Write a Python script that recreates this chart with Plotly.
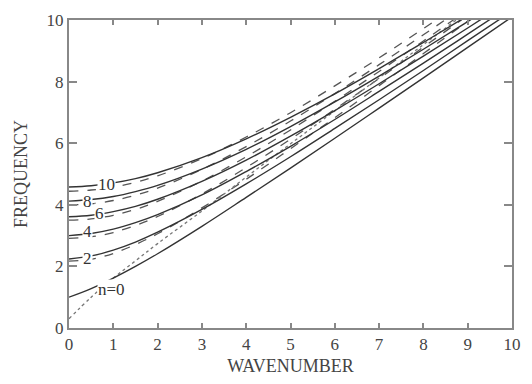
import plotly.graph_objects as go

# wavenumber samples
k = [0, 0.5, 1, 1.5, 2, 3, 4, 5, 6, 7, 8, 9, 10]

# solid curves (frequency), modes n = 0,2,4,6,8,10
solid_n0 = [1.00, 1.28, 1.62, 2.00, 2.41, 3.30, 4.24, 5.19, 6.16, 7.14, 8.12, 9.11, 10.10]
solid_n2 = [2.24, 2.34, 2.53, 2.79, 3.11, 3.85, 4.68, 5.56, 6.48, 7.41, 8.36, 9.33, 10.29]
solid_n4 = [3.00, 3.07, 3.21, 3.42, 3.68, 4.32, 5.08, 5.90, 6.77, 7.68, 8.60, 9.54, 10.49]
solid_n6 = [3.61, 3.66, 3.78, 3.95, 4.18, 4.76, 5.45, 6.23, 7.06, 7.93, 8.83, 9.74, 10.67]
solid_n8 = [4.12, 4.17, 4.27, 4.43, 4.63, 5.16, 5.80, 6.54, 7.34, 8.18, 9.05, 9.95, 10.86]
solid_n10 = [4.58, 4.62, 4.71, 4.85, 5.04, 5.53, 6.14, 6.84, 7.60, 8.42, 9.27, 10.14, 11.04]

# dashed companion curves
dash_n0 = [0.30, 1.00, 1.62, 2.18, 2.74, 3.80, 4.90, 5.98, 7.05, 8.12, 9.20, 10.28, 11.36]
dash_n2 = [2.17, 2.23, 2.42, 2.71, 3.06, 3.90, 4.83, 5.82, 6.83, 7.87, 8.91, 9.96, 11.02]
dash_n4 = [2.91, 2.96, 3.10, 3.33, 3.62, 4.35, 5.21, 6.13, 7.10, 8.10, 9.12, 10.15, 11.18]
dash_n6 = [3.50, 3.54, 3.66, 3.85, 4.11, 4.77, 5.56, 6.43, 7.36, 8.33, 9.32, 10.33, 11.35]
dash_n8 = [4.00, 4.03, 4.14, 4.31, 4.54, 5.15, 5.89, 6.72, 7.61, 8.55, 9.52, 10.51, 11.52]
dash_n10 = [4.44, 4.48, 4.57, 4.73, 4.94, 5.50, 6.20, 6.99, 7.86, 8.77, 9.72, 10.69, 11.68]

labels = ["n=0", "2", "4", "6", "8", "10"]
label_k = [0.97, 0.42, 0.42, 0.69, 0.42, 0.84]
label_w = [1.25, 2.25, 3.12, 3.72, 4.12, 4.66]

x_ticks = [0, 1, 2, 3, 4, 5, 6, 7, 8, 9, 10]
y_ticks = [0, 2, 4, 6, 8, 10]

FONT = "Liberation Serif"
fig = go.Figure()

for ys in [dash_n2, dash_n4, dash_n6, dash_n8, dash_n10]:
    fig.add_trace(go.Scatter(x=k, y=ys, mode="lines", line=dict(color="#555", width=1.3, dash="dash", shape="spline"),
                             showlegend=False, hoverinfo="skip"))
fig.add_trace(go.Scatter(x=k, y=dash_n0, mode="lines", line=dict(color="#777", width=1.3, dash="dot", shape="spline"),
                         showlegend=False, hoverinfo="skip"))
for ys in [solid_n0, solid_n2, solid_n4, solid_n6, solid_n8, solid_n10]:
    fig.add_trace(go.Scatter(x=k, y=ys, mode="lines", line=dict(color="#333", width=1.4, shape="spline"),
                             showlegend=False, hoverinfo="skip"))

for t, xk, yw in zip(labels, label_k, label_w):
    fig.add_annotation(x=xk, y=yw, text=t, showarrow=False, bgcolor="white", borderpad=0,
                       font=dict(family=FONT, size=17, color="#333"))

axis_common = dict(showline=True, linecolor="#888", linewidth=2, mirror="allticks", ticks="inside",
                   tickcolor="#888", tickwidth=1.5, showgrid=False, zeroline=False,
                   tickfont=dict(family=FONT, size=17, color="#444"))
fig.update_xaxes(range=[0, 10], tickvals=x_ticks, ticklen=5,
                 title=dict(text="WAVENUMBER", font=dict(family=FONT, size=18, color="#444"), standoff=6),
                 **axis_common)
fig.update_yaxes(range=[0, 10], tickvals=y_ticks, ticklen=8,
                 title=dict(text="FREQUENCY", font=dict(family=FONT, size=18, color="#444"), standoff=14),
                 **axis_common)
fig.update_layout(width=532, height=384, margin=dict(l=69, r=11, t=12, b=52),
                  paper_bgcolor="white", plot_bgcolor="white")
fig.write_html("out.html")
